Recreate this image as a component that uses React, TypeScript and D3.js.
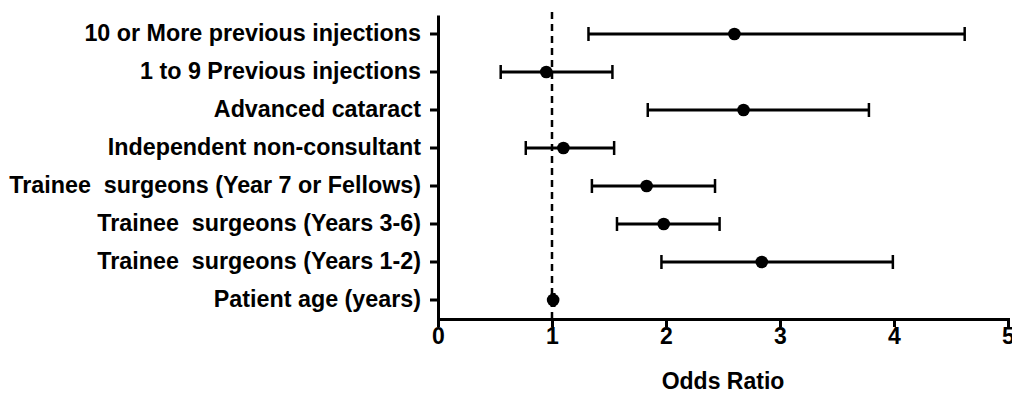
import * as d3 from "d3";
import React, { useRef, useEffect } from "react";

// risk factors, top to bottom
const labels = [
  "10 or More previous injections",
  "1 to 9 Previous injections",
  "Advanced cataract",
  "Independent non-consultant",
  "Trainee  surgeons (Year 7 or Fellows)",
  "Trainee  surgeons (Years 3-6)",
  "Trainee  surgeons (Years 1-2)",
  "Patient age (years)",
];
const oddsRatio = [2.6, 0.95, 2.68, 1.1, 1.83, 1.98, 2.84, 1.01];
const ciLow = [1.32, 0.55, 1.84, 0.77, 1.35, 1.57, 1.96, 1.0];
const ciHigh = [4.62, 1.53, 3.78, 1.545, 2.43, 2.47, 3.99, 1.02];
const xTicks = [0, 1, 2, 3, 4, 5];

const W = 1012;
const H = 399;
const FONT = "'Liberation Sans', Arial, Helvetica, sans-serif";

const App = () => {
  const xAxisRef = useRef<SVGGElement>(null);
  const yAxisRef = useRef<SVGGElement>(null);

  const x = d3.scaleLinear().domain([0, 5]).range([438, 1008]);
  const y = d3.scaleBand<string>().domain(labels).range([15, 319]);
  const cy = (l: string) => (y(l) as number) + y.bandwidth() / 2;
  const axisY = 319;

  useEffect(() => {
    // x axis
    const gx = d3.select(xAxisRef.current);
    gx.call(
      d3.axisBottom(x).tickValues(xTicks).tickFormat(d3.format("d")).tickSize(8).tickSizeOuter(0).tickPadding(1)
    );
    gx.select(".domain").attr("stroke-width", 3).attr("stroke-linecap", "square");
    gx.selectAll(".tick line").attr("stroke-width", 3);
    gx.selectAll(".tick text")
      .attr("font-size", 23)
      .attr("font-weight", "bold")
      .attr("font-family", FONT)
      .attr("fill", "#000");

    // y axis
    const gy = d3.select(yAxisRef.current);
    gy.call(d3.axisLeft(y).tickSize(8).tickSizeOuter(0).tickPadding(9));
    gy.select(".domain").attr("stroke-width", 3);
    gy.selectAll(".tick line").attr("stroke-width", 3);
    gy.selectAll(".tick text")
      .attr("font-size", 23.3)
      .attr("font-weight", "bold")
      .attr("font-family", FONT)
      .attr("fill", "#000")
      .style("white-space", "pre");
  });

  return (
    <svg
      width={W}
      height={H}
      style={{ position: "absolute", left: 0, top: 0, background: "#fff" }}
    >
      {/* reference line at OR = 1 */}
      <line
        x1={x(1)}
        x2={x(1)}
        y1={12}
        y2={axisY}
        stroke="#000"
        strokeWidth={2.5}
        strokeDasharray="7,5"
      />
      {labels.map((l, i) => (
        <g key={l}>
          <line x1={x(ciLow[i])} x2={x(ciHigh[i])} y1={cy(l)} y2={cy(l)} stroke="#000" strokeWidth={3} />
          <line x1={x(ciLow[i])} x2={x(ciLow[i])} y1={cy(l) - 7} y2={cy(l) + 7} stroke="#000" strokeWidth={2.5} />
          <line x1={x(ciHigh[i])} x2={x(ciHigh[i])} y1={cy(l) - 7} y2={cy(l) + 7} stroke="#000" strokeWidth={2.5} />
          <circle cx={x(oddsRatio[i])} cy={cy(l)} r={6.3} fill="#000" />
        </g>
      ))}
      <g ref={xAxisRef} transform={`translate(0,${axisY})`} />
      <g ref={yAxisRef} transform={`translate(${x(0)},0)`} />
      <text
        x={(x(0) + x(5)) / 2}
        y={389}
        textAnchor="middle"
        fontSize={23}
        fontWeight="bold"
        fontFamily={FONT}
      >
        Odds Ratio
      </text>
    </svg>
  );
};

export default App;
